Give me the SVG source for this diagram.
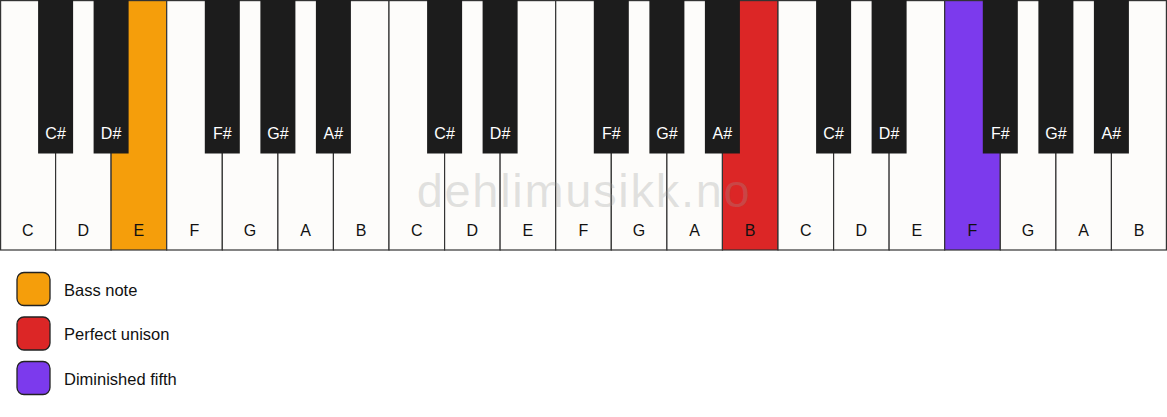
<svg xmlns="http://www.w3.org/2000/svg" width="1167" height="417" viewBox="0 0 1167 417">
<style>
.w{fill:#fdfcfa;stroke:#333;stroke-width:1.2}
.b{fill:#1c1c1c}
.wl{font-family:"Liberation Sans",Arial,sans-serif;font-size:16px;fill:#111;text-anchor:middle}
.bl{font-family:"Liberation Sans",Arial,sans-serif;font-size:16px;fill:#fff;text-anchor:middle}
.lg{font-family:"Liberation Sans",Arial,sans-serif;font-size:16.5px;fill:#111}
.sw{stroke:#222;stroke-width:1.3}
</style>
<rect width="1167" height="417" fill="#ffffff"/>
<g id="white-keys">
<g id="w0"><rect class="w" x="0.6" y="0.6" width="55" height="249.4"/><text class="wl" x="27.8" y="236">C</text></g>
<g id="w1"><rect class="w" x="55.6" y="0.6" width="55.5" height="249.4"/><text class="wl" x="83.4" y="236">D</text></g>
<g id="w2"><rect class="w" x="111.1" y="0.6" width="55.6" height="249.4" style="fill:#f59e0b"/><text class="wl" x="138.9" y="236">E</text></g>
<g id="w3"><rect class="w" x="166.7" y="0.6" width="55.6" height="249.4"/><text class="wl" x="194.5" y="236">F</text></g>
<g id="w4"><rect class="w" x="222.3" y="0.6" width="55.6" height="249.4"/><text class="wl" x="250.1" y="236">G</text></g>
<g id="w5"><rect class="w" x="277.9" y="0.6" width="55.6" height="249.4"/><text class="wl" x="305.7" y="236">A</text></g>
<g id="w6"><rect class="w" x="333.4" y="0.6" width="55.6" height="249.4"/><text class="wl" x="361.2" y="236">B</text></g>
<g id="w7"><rect class="w" x="389" y="0.6" width="55.6" height="249.4"/><text class="wl" x="416.8" y="236">C</text></g>
<g id="w8"><rect class="w" x="444.6" y="0.6" width="55.6" height="249.4"/><text class="wl" x="472.4" y="236">D</text></g>
<g id="w9"><rect class="w" x="500.1" y="0.6" width="55.6" height="249.4"/><text class="wl" x="527.9" y="236">E</text></g>
<g id="w10"><rect class="w" x="555.7" y="0.6" width="55.6" height="249.4"/><text class="wl" x="583.5" y="236">F</text></g>
<g id="w11"><rect class="w" x="611.3" y="0.6" width="55.6" height="249.4"/><text class="wl" x="639.1" y="236">G</text></g>
<g id="w12"><rect class="w" x="666.9" y="0.6" width="55.6" height="249.4"/><text class="wl" x="694.7" y="236">A</text></g>
<g id="w13"><rect class="w" x="722.4" y="0.6" width="55.6" height="249.4" style="fill:#dc2626"/><text class="wl" x="750.2" y="236">B</text></g>
<g id="w14"><rect class="w" x="778" y="0.6" width="55.6" height="249.4"/><text class="wl" x="805.8" y="236">C</text></g>
<g id="w15"><rect class="w" x="833.6" y="0.6" width="55.6" height="249.4"/><text class="wl" x="861.4" y="236">D</text></g>
<g id="w16"><rect class="w" x="889.1" y="0.6" width="55.6" height="249.4"/><text class="wl" x="916.9" y="236">E</text></g>
<g id="w17"><rect class="w" x="944.7" y="0.6" width="55.6" height="249.4" style="fill:#7c3aed"/><text class="wl" x="972.5" y="236">F</text></g>
<g id="w18"><rect class="w" x="1000.3" y="0.6" width="55.6" height="249.4"/><text class="wl" x="1028.1" y="236">G</text></g>
<g id="w19"><rect class="w" x="1055.9" y="0.6" width="55.6" height="249.4"/><text class="wl" x="1083.7" y="236">A</text></g>
<g id="w20"><rect class="w" x="1111.4" y="0.6" width="55" height="249.4"/><text class="wl" x="1139" y="236">B</text></g>
</g>
<text id="watermark" x="584" y="207" font-family="'Liberation Sans',Arial,sans-serif" font-size="47" letter-spacing="1.7" text-anchor="middle" fill="#999" fill-opacity="0.28">dehlimusikk.no</text>
<g id="black-keys">
<g id="b1"><rect class="b" x="38.1" y="0" width="35" height="153.5"/><text class="bl" x="55.6" y="139">C#</text></g>
<g id="b2"><rect class="b" x="93.6" y="0" width="35" height="153.5"/><text class="bl" x="111.1" y="139">D#</text></g>
<g id="b4"><rect class="b" x="204.8" y="0" width="35" height="153.5"/><text class="bl" x="222.3" y="139">F#</text></g>
<g id="b5"><rect class="b" x="260.4" y="0" width="35" height="153.5"/><text class="bl" x="277.9" y="139">G#</text></g>
<g id="b6"><rect class="b" x="315.9" y="0" width="35" height="153.5"/><text class="bl" x="333.4" y="139">A#</text></g>
<g id="b8"><rect class="b" x="427.1" y="0" width="35" height="153.5"/><text class="bl" x="444.6" y="139">C#</text></g>
<g id="b9"><rect class="b" x="482.6" y="0" width="35" height="153.5"/><text class="bl" x="500.1" y="139">D#</text></g>
<g id="b11"><rect class="b" x="593.8" y="0" width="35" height="153.5"/><text class="bl" x="611.3" y="139">F#</text></g>
<g id="b12"><rect class="b" x="649.4" y="0" width="35" height="153.5"/><text class="bl" x="666.9" y="139">G#</text></g>
<g id="b13"><rect class="b" x="704.9" y="0" width="35" height="153.5"/><text class="bl" x="722.4" y="139">A#</text></g>
<g id="b15"><rect class="b" x="816.1" y="0" width="35" height="153.5"/><text class="bl" x="833.6" y="139">C#</text></g>
<g id="b16"><rect class="b" x="871.6" y="0" width="35" height="153.5"/><text class="bl" x="889.1" y="139">D#</text></g>
<g id="b18"><rect class="b" x="982.8" y="0" width="35" height="153.5"/><text class="bl" x="1000.3" y="139">F#</text></g>
<g id="b19"><rect class="b" x="1038.4" y="0" width="35" height="153.5"/><text class="bl" x="1055.9" y="139">G#</text></g>
<g id="b20"><rect class="b" x="1093.9" y="0" width="35" height="153.5"/><text class="bl" x="1111.4" y="139">A#</text></g>
</g>
<g id="legend">
<g id="leg-bass"><rect class="sw" x="17" y="272.5" width="33" height="33" rx="7" fill="#f59e0b"/><text class="lg" x="64" y="295.5">Bass note</text></g>
<g id="leg-unison"><rect class="sw" x="17" y="317" width="33" height="33" rx="7" fill="#dc2626"/><text class="lg" x="64" y="340">Perfect unison</text></g>
<g id="leg-dim5"><rect class="sw" x="17" y="361.5" width="33" height="33" rx="7" fill="#7c3aed"/><text class="lg" x="64" y="384.5">Diminished fifth</text></g>
</g>
</svg>
